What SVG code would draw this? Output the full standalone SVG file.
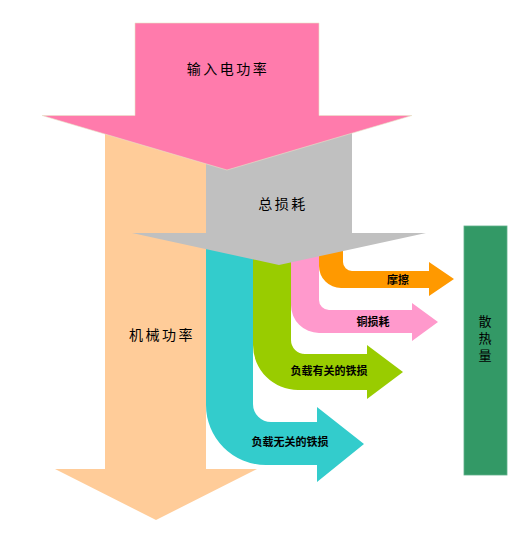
<svg xmlns="http://www.w3.org/2000/svg" width="529" height="533" viewBox="0 0 529 533">
<style>
.t{font-family:"Noto Sans CJK SC","Noto Sans",sans-serif;fill:#000;text-anchor:middle}
.big{font-size:14px;letter-spacing:2.5px}
.lb{font-size:11px;font-weight:bold}
</style>
<rect width="529" height="533" fill="#fff"/>
<g id="mech">
<path d="M105,130 H206 V469 H257 L156,520 L55,469 H105 Z" fill="#FFCC99"/>
<text class="t big" x="162" y="340">机械功率</text>
</g>
<g id="connectors">
<path id="iron-noload" d="M206,240 V405 A60,60 0 0 0 266,465 H317 V482 L364,444 L317,407 V422 H271 A18,18 0 0 1 253,404 V240 Z" fill="#33CCCC"/>
<path id="iron-load" d="M253,240 V345 A45,45 0 0 0 298,390 H367 V399 L403,372 L367,345 V354 H305 A14,14 0 0 1 291,340 V240 Z" fill="#99CC00"/>
<path id="copper" d="M291,240 V305 A28,28 0 0 0 319,333 H412 V341 L438,322 L412,303 V310 H329 A10,10 0 0 1 319,300 V240 Z" fill="#FF99CC"/>
<path id="friction" d="M319,240 V266 A22,22 0 0 0 341,288 H429 V296 L454,279 L429,262 V271 H352 A9,9 0 0 1 343,262 V240 Z" fill="#FF9900"/>
</g>
<g id="labels">
<text class="t lb" x="290" y="446">负载无关的铁损</text>
<text class="t lb" x="329" y="375">负载有关的铁损</text>
<text class="t lb" x="373" y="326">铜损耗</text>
<text class="t lb" x="398" y="284">摩擦</text>
</g>
<g id="loss">
<path d="M206,130 H352 V233 H426 L279,265 L132,233 H206 Z" fill="#C0C0C0"/>
<text class="t big" x="283" y="209">总损耗</text>
</g>
<g id="input">
<path d="M135,23 H319 V115.5 H412 L227,170 L42,115.5 H135 Z" fill="#FF7BAC" stroke="#e8e4c8" stroke-width="0.6"/>
<text class="t big" x="228" y="74">输入电功率</text>
</g>
<g id="heat">
<rect x="464" y="226" width="43" height="249" fill="#339966" stroke="#5fb08a" stroke-width="0.8"/>
<text class="t" style="font-size:13px;writing-mode:vertical-rl;letter-spacing:4px" x="485" y="340">散热量</text>
</g>
</svg>
